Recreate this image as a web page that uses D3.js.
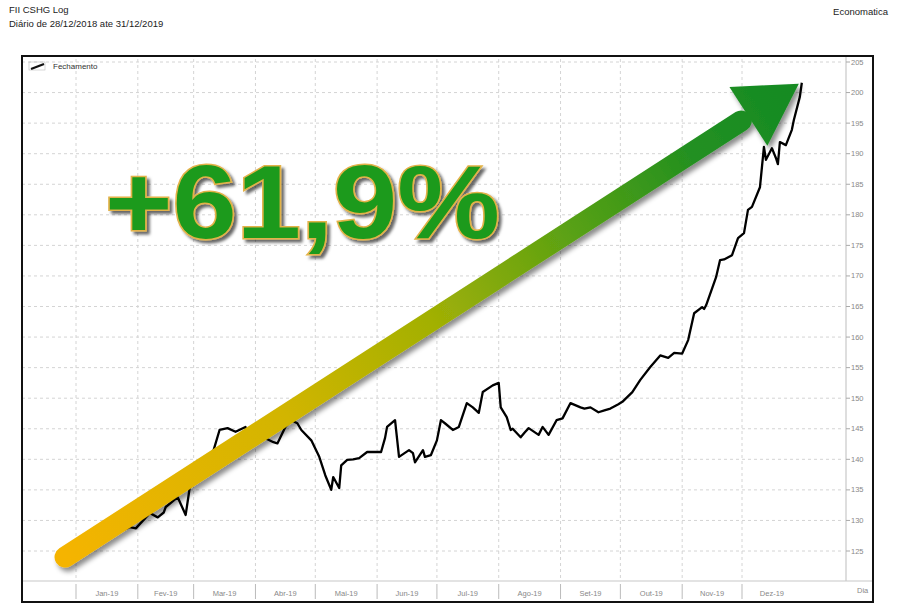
<!DOCTYPE html>
<html><head><meta charset="utf-8">
<script src="https://cdn.jsdelivr.net/npm/d3@7"></script>
<style>
html,body{margin:0;padding:0;background:#fff;}
svg{display:block;font-family:"Liberation Sans",Arial,sans-serif;}
</style></head>
<body><svg id="c" width="900" height="614"></svg>
<script>
// ---- data ----
const dates = ["2018-12-28","2019-01-03","2019-01-10","2019-01-18","2019-01-23","2019-01-28","2019-01-31","2019-02-07","2019-02-11","2019-02-14","2019-02-15","2019-02-21","2019-02-25","2019-02-27","2019-03-04","2019-03-07","2019-03-11","2019-03-14","2019-03-18","2019-03-22","2019-03-27","2019-03-29","2019-04-05","2019-04-10","2019-04-12","2019-04-16","2019-04-19","2019-04-22","2019-04-24","2019-04-29","2019-05-03","2019-05-06","2019-05-09","2019-05-10","2019-05-13","2019-05-14","2019-05-17","2019-05-20","2019-05-23","2019-05-27","2019-06-03","2019-06-05","2019-06-06","2019-06-10","2019-06-12","2019-06-17","2019-06-19","2019-06-20","2019-06-24","2019-06-25","2019-06-28","2019-07-01","2019-07-03","2019-07-05","2019-07-09","2019-07-12","2019-07-16","2019-07-19","2019-07-22","2019-07-24","2019-07-29","2019-08-01","2019-08-02","2019-08-05","2019-08-07","2019-08-08","2019-08-12","2019-08-14","2019-08-16","2019-08-21","2019-08-23","2019-08-26","2019-08-30","2019-09-02","2019-09-06","2019-09-11","2019-09-13","2019-09-16","2019-09-20","2019-09-23","2019-09-26","2019-09-30","2019-10-02","2019-10-07","2019-10-11","2019-10-16","2019-10-21","2019-10-25","2019-10-28","2019-11-01","2019-11-04","2019-11-07","2019-11-11","2019-11-12","2019-11-13","2019-11-18","2019-11-20","2019-11-22","2019-11-26","2019-11-29","2019-12-02","2019-12-04","2019-12-06","2019-12-10","2019-12-12","2019-12-13","2019-12-16","2019-12-18","2019-12-19","2019-12-20","2019-12-23","2019-12-26","2019-12-27","2019-12-30","2019-12-31"];
const values = [124.5,125.4,126.6,127.4,128.2,128.9,128.7,131.2,130.5,131.3,132.2,133.8,130.9,135.3,137.5,139.8,141.5,144.8,145.1,144.5,145.3,142.3,143.6,142.8,142.6,145.3,146.4,145.9,144.8,143.1,140.4,137.4,135.0,137.1,135.3,139.0,139.9,140.0,140.2,141.2,141.2,143.5,145.3,146.4,140.4,141.5,141.0,139.5,141.5,140.4,140.7,143.1,146.4,145.9,144.8,145.3,149.2,148.5,147.6,151.0,152.1,152.5,148.5,146.9,144.8,145.0,143.6,144.4,145.1,144.0,145.3,144.0,146.4,146.7,149.2,148.5,148.3,148.5,147.7,148.0,148.3,149.0,149.4,151.0,153.0,155.1,157.0,156.6,157.4,157.3,159.5,163.9,164.9,164.6,165.2,169.8,172.6,172.7,173.4,176.2,177.0,180.8,181.3,184.5,191.1,189.0,190.9,189.3,188.3,191.9,191.4,193.9,195.5,199.3,201.6];
const yTicks = [125,130,135,140,145,150,155,160,165,170,175,180,185,190,195,200,205];
const monthStarts = ["2019-01-01","2019-02-01","2019-03-01","2019-04-01","2019-05-01","2019-06-01","2019-07-01","2019-08-01","2019-09-01","2019-10-01","2019-11-01","2019-12-01"];
const monthLabels = ["Jan-19","Fev-19","Mar-19","Abr-19","Mai-19","Jun-19","Jul-19","Ago-19","Set-19","Out-19","Nov-19","Dez-19"];
const periodEnd = "2019-12-31";
const titleLines = ["FII CSHG Log","Diário de 28/12/2018 ate 31/12/2019"];
const sourceText = "Economatica";
const seriesName = "Fechamento";
const highlight = "+61,9%";

// ---- layout ----
const svg = d3.select("#c");
const P = {left:22, top:56, axisX:846, right:873, axisY:581, bottom:602};
const parse = d3.timeParse("%Y-%m-%d");
const x = d3.scaleTime().domain([parse("2019-01-01"), parse("2019-12-01")]).range([76, 742]);
const y = d3.scaleLinear().domain([125, 205]).range([551, 62]);
const data = dates.map((d,i)=>({d:parse(d), v:values[i]}));

const defs = svg.append("defs");
const fArrow = defs.append("filter").attr("id","shA").attr("x","-10%").attr("y","-10%").attr("width","130%").attr("height","130%");
fArrow.append("feDropShadow").attr("dx",3).attr("dy",4).attr("stdDeviation",2.5).attr("flood-color","#000").attr("flood-opacity",0.45);
const fText = defs.append("filter").attr("id","shT").attr("x","-10%").attr("y","-10%").attr("width","130%").attr("height","130%");
fText.append("feDropShadow").attr("dx",3).attr("dy",3).attr("stdDeviation",1.8).attr("flood-color","#000").attr("flood-opacity",0.6);

// titles
svg.append("text").attr("x",9).attr("y",13).attr("font-size",9.5).attr("fill","#222").text(titleLines[0]);
svg.append("text").attr("x",9).attr("y",27).attr("font-size",9.5).attr("fill","#222").text(titleLines[1]);
svg.append("text").attr("x",888).attr("y",15).attr("text-anchor","end").attr("font-size",9.5).attr("fill","#222").text(sourceText);

// grid
const grid = svg.append("g");
grid.selectAll("line.h").data(yTicks).join("line")
  .attr("x1",P.left).attr("x2",P.axisX-2).attr("y1",d=>y(d)).attr("y2",d=>y(d))
  .attr("stroke","#d4d4d4").attr("stroke-width",1).attr("stroke-dasharray","3,3");
grid.selectAll("line.v").data(monthStarts).join("line")
  .attr("x1",d=>x(parse(d))).attr("x2",d=>x(parse(d))).attr("y1",P.top+3).attr("y2",P.axisY)
  .attr("stroke","#d4d4d4").attr("stroke-width",1).attr("stroke-dasharray","3,3");

// axes lines
svg.append("line").attr("x1",P.axisX).attr("x2",P.axisX).attr("y1",P.top).attr("y2",P.axisY)
  .attr("stroke","#c8c8c8").attr("stroke-width",1.2);
svg.append("line").attr("x1",P.left).attr("x2",P.right).attr("y1",P.axisY).attr("y2",P.axisY)
  .attr("stroke","#c8c8c8").attr("stroke-width",1.2);

// y axis ticks
const ya = svg.append("g");
ya.selectAll("line").data(yTicks).join("line")
  .attr("x1",P.axisX).attr("x2",P.axisX+4).attr("y1",d=>y(d)).attr("y2",d=>y(d))
  .attr("stroke","#aaa").attr("stroke-width",1);
ya.selectAll("text").data(yTicks).join("text")
  .attr("x",P.axisX+5).attr("y",d=>y(d)+2.5).attr("font-size",7.5).attr("fill","#888").text(d=>d);

// x axis separators and labels
const xa = svg.append("g");
xa.selectAll("line").data(monthStarts).join("line")
  .attr("x1",d=>x(parse(d))).attr("x2",d=>x(parse(d))).attr("y1",P.axisY+3).attr("y2",P.bottom-3)
  .attr("stroke","#bbb").attr("stroke-width",1);
const bounds = monthStarts.map(parse).concat([parse(periodEnd)]);
xa.selectAll("text").data(monthLabels).join("text")
  .attr("x",(d,i)=>(x(bounds[i])+x(bounds[i+1]))/2).attr("y",596)
  .attr("text-anchor","middle").attr("font-size",7.5).attr("fill","#888").text(d=>d);
svg.append("text").attr("x",857).attr("y",593).attr("font-size",7.5).attr("fill","#888").text("Dia");

// legend
svg.append("rect").attr("x",29).attr("y",62).attr("width",16).attr("height",8).attr("fill","none").attr("stroke","#bbb").attr("stroke-width",0.6);
svg.append("line").attr("x1",31).attr("y1",69).attr("x2",44).attr("y2",64).attr("stroke","#111").attr("stroke-width",2.2);
svg.append("text").attr("x",53).attr("y",69).attr("font-size",8).attr("fill","#333").text(seriesName);

// price line
svg.append("path").datum(data)
  .attr("d", d3.line().x(d=>x(d.d)).y(d=>y(d.v)))
  .attr("fill","none").attr("stroke","#000").attr("stroke-width",2.3).attr("stroke-linejoin","round");

// arrow annotation anchored on first and last point
const s = [x(data[0].d)-3, y(data[0].v)+3];
const t = [x(data[data.length-1].d)-3, y(data[data.length-1].v)+1];
const L = Math.hypot(t[0]-s[0], t[1]-s[1]);
const ang = Math.atan2(t[1]-s[1], t[0]-s[0])*180/Math.PI;
const grad = defs.append("linearGradient").attr("id","ag").attr("gradientUnits","userSpaceOnUse")
  .attr("x1",0).attr("y1",0).attr("x2",L).attr("y2",0);
[[0,"#f5b400"],[0.3,"#d2b500"],[0.5,"#a2b005"],[0.7,"#55a014"],[0.85,"#249020"],[1,"#138a22"]]
  .forEach(([o,c])=>grad.append("stop").attr("offset",o).attr("stop-color",c));
const headLen = 60, headHalf = 35, shaftHalf = 10.5;
const ag = svg.append("g").attr("filter","url(#shA)");
const ar = ag.append("g").attr("transform",`translate(${s[0]},${s[1]}) rotate(${ang})`);
ar.append("rect").attr("x",-shaftHalf).attr("y",-shaftHalf).attr("width",L-headLen+shaftHalf+2).attr("height",shaftHalf*2)
  .attr("rx",shaftHalf).attr("fill","url(#ag)");
ar.append("path").attr("d",`M${L-headLen},${-headHalf} L${L},0 L${L-headLen},${headHalf} Z`).attr("fill","url(#ag)");

// big label
svg.append("text").attr("x",105).attr("y",238)
  .attr("font-size",104).attr("font-weight","bold")
  .attr("textLength",395).attr("lengthAdjust","spacingAndGlyphs")
  .attr("fill","#1e9a1a").attr("stroke","#e3b24a").attr("stroke-width",3).attr("paint-order","stroke")
  .attr("filter","url(#shT)").text(highlight);

// frame
svg.append("rect").attr("x",P.left).attr("y",P.top).attr("width",P.right-P.left).attr("height",P.bottom-P.top)
  .attr("fill","none").attr("stroke","#111").attr("stroke-width",2);
</script></body></html>
